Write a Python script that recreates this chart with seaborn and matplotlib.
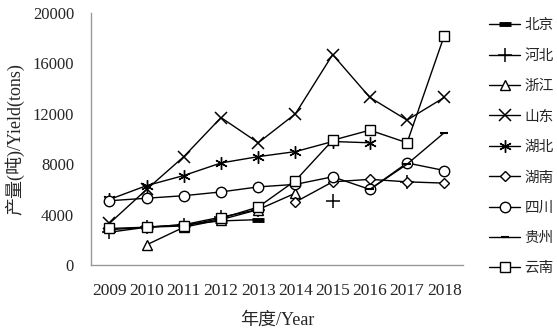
import numpy as np
import pandas as pd
import seaborn as sns
import matplotlib.pyplot as plt
from matplotlib.lines import Line2D

years = ['2009', '2010', '2011', '2012', '2013', '2014', '2015', '2016', '2017', '2018']
nan = np.nan

beijing = [2800, 3000, 3200, 3500, 3600, nan, nan, nan, nan, nan]
hebei = [2600, 3000, 3200, 3800, 4400, nan, 5100, nan, 6600, nan]
zhejiang = [nan, 1600, 3000, 3600, 4400, 5700, nan, nan, nan, nan]
shandong = [3300, 6000, 8600, 11700, 9700, 12000, 16700, 13300, 11500, 13300]
hubei = [5200, 6300, 7100, 8100, 8600, 9000, 9800, 9700, nan, nan]
hunan = [nan, nan, nan, nan, nan, 5000, 6600, 6800, 6600, 6500]
sichuan = [5100, 5300, 5500, 5800, 6200, 6400, 7000, 6000, 8100, 7500]
guizhou = [nan, nan, nan, nan, nan, nan, nan, 6000, 8000, 10500]
yunnan = [2900, 3000, 3100, 3700, 4600, 6700, 9900, 10700, 9700, 18200]

names = ['北京', '河北', '浙江', '山东', '湖北', '湖南', '四川', '贵州', '云南']
series = [beijing, hebei, zhejiang, shandong, hubei, hunan, sichuan, guizhou, yunnan]

# marker style for each province (black lines, open markers like Excel)
styles = {
    '北京': dict(marker='_', ms=8, mew=3.5),
    '河北': dict(marker='+', ms=10, mew=1.1),
    '浙江': dict(marker='^', ms=7, mew=1.0, mfc='white'),
    '山东': dict(marker='x', ms=9, mew=1.1),
    '湖北': dict(marker=(6, 2, 0), ms=9, mew=1.0),
    '湖南': dict(marker='D', ms=5.5, mew=1.0, mfc='white'),
    '四川': dict(marker='o', ms=7.5, mew=1.0, mfc='white'),
    '贵州': dict(marker='_', ms=6, mew=1.5),
    '云南': dict(marker='s', ms=7, mew=1.0, mfc='white'),
}

sns.set_style('white')
serif = ['Liberation Serif', 'Noto Sans CJK SC']
plt.rcParams['font.family'] = serif
plt.rcParams['axes.unicode_minus'] = False

fig = plt.figure(figsize=(5.57, 3.29), dpi=100)
ax = fig.add_axes([0.163, 0.1945, 0.668, 0.766])

x = np.arange(len(years))
for name, vals in zip(names, series):
    df = pd.DataFrame({'x': x, 'y': vals})
    # split into segments so missing years leave a gap
    df['seg'] = df['y'].isna().cumsum()
    df = df.dropna()
    for _, part in df.groupby('seg'):
        sns.lineplot(data=part, x='x', y='y', ax=ax, color='black', lw=1.0,
                     mec='black', **styles[name])

ax.set_xlim(-0.5, len(years) - 0.5)
ax.set_ylim(0, 20000)
ax.set_yticks([0, 4000, 8000, 12000, 16000, 20000])
ax.set_xticks(np.arange(-0.5, len(years)), labels=[])
ax.set_xticks(x, labels=years, minor=True)
ax.tick_params(axis='x', which='major', direction='in', length=4, color='#999999')
ax.tick_params(axis='x', which='minor', length=0, pad=13, labelsize=12.5)
ax.tick_params(axis='y', direction='in', length=4, color='#999999', pad=12, labelsize=12)

for s in ['top', 'right']:
    ax.spines[s].set_visible(False)
for s in ['left', 'bottom']:
    ax.spines[s].set_color('#999999')
    ax.spines[s].set_linewidth(1.0)

ax.set_xlabel('年度/Year', fontsize=13, labelpad=9)
ax.set_ylabel('产量(吨)/Yield(tons)', fontsize=13, labelpad=6)

handles = [Line2D([], [], color='black', lw=1.0, mec='black', **styles[n]) for n in names]
fig.legend(handles, names, loc='upper left', bbox_to_anchor=(0.868, 0.96),
           frameon=False, fontsize=10.5, handlelength=2.1, handletextpad=0.3,
           labelspacing=1.17, borderaxespad=0)

fig.savefig('out.png', dpi=100)
